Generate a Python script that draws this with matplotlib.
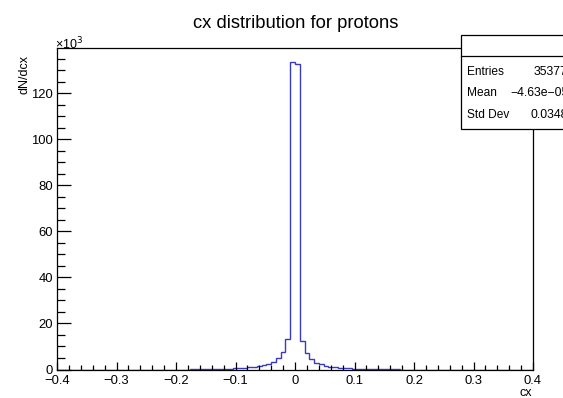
import numpy as np
import matplotlib
matplotlib.use("Agg")
import matplotlib.pyplot as plt
from matplotlib.ticker import MultipleLocator, FuncFormatter
from matplotlib.patches import Rectangle
from matplotlib.lines import Line2D

plt.rcParams['font.family'] = ['Liberation Sans', 'DejaVu Sans']

# histogram: 100 bins from -0.4 to 0.4, counts in units of 10^3
x_min, x_max, n_bins = -0.4, 0.4, 100
first_bin = 28  # bin starting at cx = -0.176
left_counts = [0.15, 0.2, 0.22, 0.25, 0.28, 0.3, 0.33, 0.37, 0.42, 0.5, 0.6,
               0.75, 0.95, 1.2, 1.6, 2.0, 2.5, 3.2, 4.8, 7.5, 13.3, 133.6]
right_counts = [132.7, 12.6, 7.2, 4.6, 2.9, 2.2, 1.7, 1.3, 1.0, 0.8, 0.6, 0.5,
                0.42, 0.36, 0.32, 0.28, 0.25, 0.22, 0.2, 0.18, 0.16, 0.14]

title = "cx distribution for protons"
stats_labels = ["Entries", "Mean", "Std Dev"]
stats_values = ["353772", "\u22124.63e\u221205", "0.03485"]

edges = np.linspace(x_min, x_max, n_bins + 1)
counts = np.zeros(n_bins)
nz = left_counts + right_counts
counts[first_bin:first_bin + len(nz)] = nz

W, H = 563, 398
fig = plt.figure(figsize=(W / 100, H / 100), dpi=100)
ax = fig.add_axes([57 / W, 1 - 369.5 / H, (533 - 57) / W, (369.5 - 48.3) / H])
ax.stairs(counts, edges, color='#3a3ac0', linewidth=1.0, baseline=None)
ax.set_xlim(x_min, x_max)
ax.set_ylim(0, 139.6)

ax.xaxis.set_major_locator(MultipleLocator(0.1))
ax.xaxis.set_minor_locator(MultipleLocator(0.02))
ax.yaxis.set_major_locator(MultipleLocator(20))
ax.yaxis.set_minor_locator(MultipleLocator(5))
ax.xaxis.set_major_formatter(FuncFormatter(lambda v, p: ("%g" % round(v, 2)).replace("-", "\u2212")))
ax.yaxis.set_major_formatter(FuncFormatter(lambda v, p: "%d" % round(v)))
ax.tick_params(axis='both', which='both', direction='in', top=False, right=False,
               labelsize=9.4, color='black', width=0.9)
ax.tick_params(axis='y', which='major', length=10, pad=3)
ax.tick_params(axis='y', which='minor', length=5.5)
ax.tick_params(axis='x', which='major', length=6, pad=4)
ax.tick_params(axis='x', which='minor', length=3.3)
for s in ax.spines.values():
    s.set_linewidth(0.9)
    s.set_zorder(5)

fig.text(296 / W, 1 - 28 / H, title, ha='center', va='baseline', fontsize=13.2)
fig.text(25 / W, 1 - 55 / H, "dN/dcx", rotation=90, ha='center', va='top', fontsize=9)
fig.text(532 / W, 1 - 393 / H, "cx", ha='right', va='center', fontsize=9)
fig.text(55 / W, 1 - 44 / H, "\u00d710$^3$", ha='left', va='center', fontsize=9)

# stats box
bx0, by0, by1 = 461, 35, 129.3
fig.add_artist(Rectangle((bx0 / W, 1 - by1 / H), (W + 20 - bx0) / W, (by1 - by0) / H,
                         transform=fig.transFigure, fill=True, facecolor='white',
                         edgecolor='black', linewidth=0.9, zorder=10))
fig.add_artist(Line2D([bx0 / W, 1.05], [1 - 56 / H, 1 - 56 / H],
                      transform=fig.transFigure, color='black', linewidth=0.9, zorder=11))
row_y = [71.7, 93.5, 115.2]
val_x = [533.5, 510, 530.7]
for lab, val, yy, vx in zip(stats_labels, stats_values, row_y, val_x):
    fig.text(467 / W, 1 - yy / H, lab, ha='left', va='center', fontsize=8.6, zorder=12)
    fig.text(vx / W, 1 - yy / H, val, ha='left', va='center', fontsize=8.8, zorder=12)

fig.savefig("out.png", dpi=100)
